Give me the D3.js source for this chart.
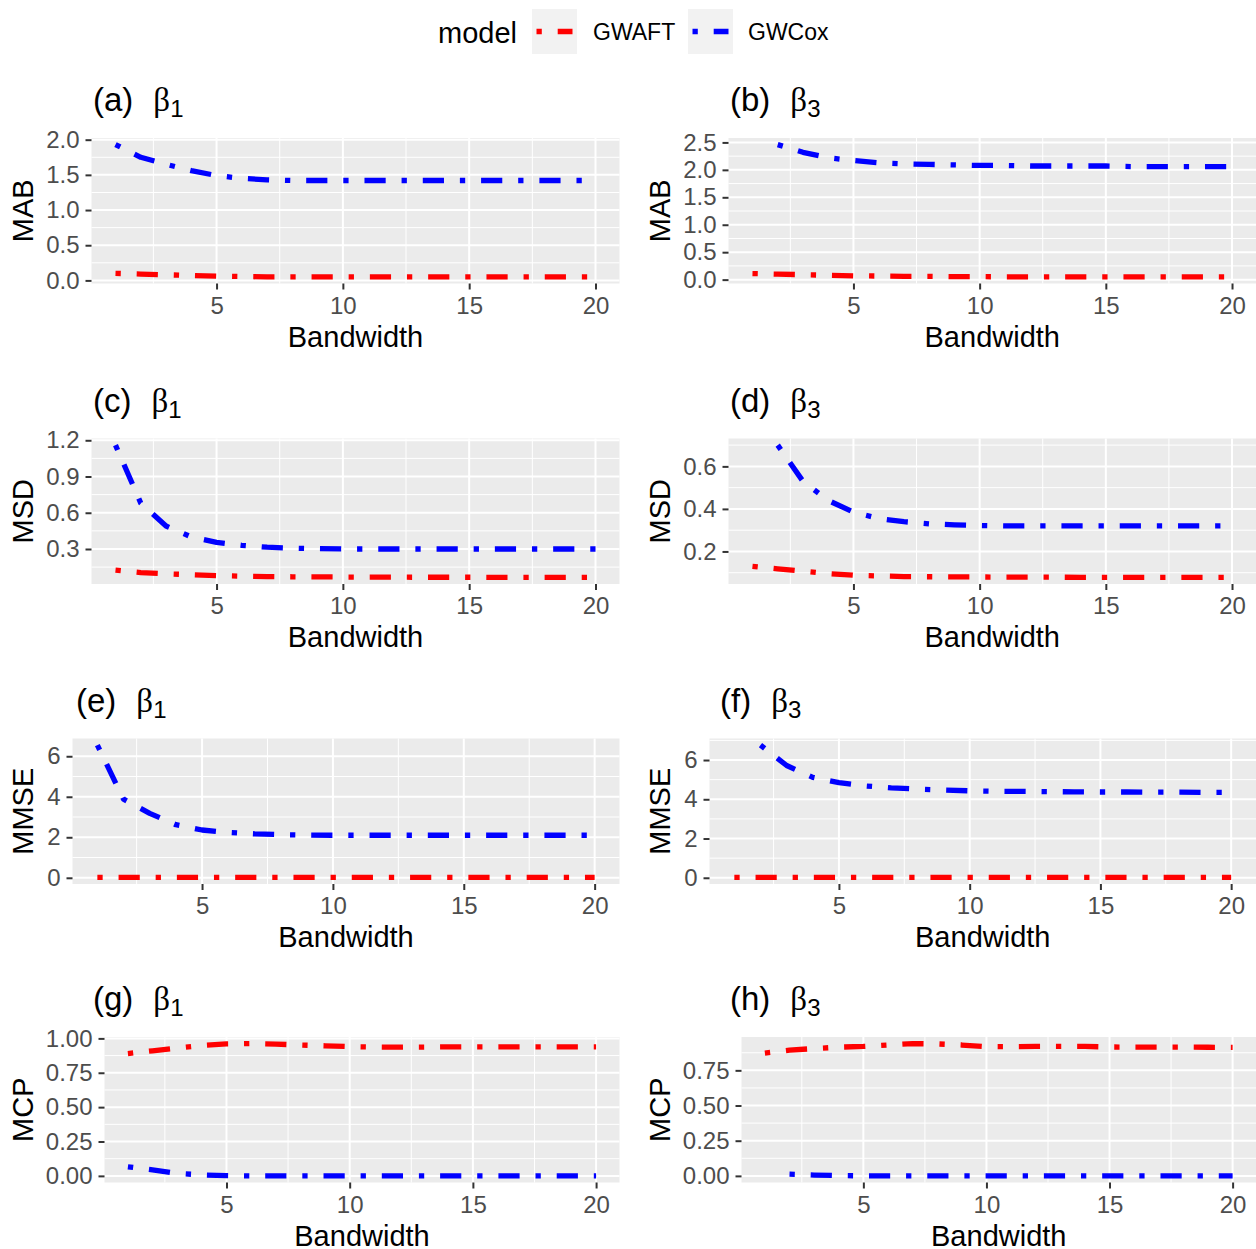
<!DOCTYPE html>
<html>
<head>
<meta charset="utf-8">
<script src="https://cdn.jsdelivr.net/npm/d3@7"></script>
<style>
  body { margin: 0; background: #fff; }
  text { font-family: "Liberation Sans", Arial, sans-serif; }
</style>
</head>
<body>
<div class="chart"></div>
<script>
// bandwidth values on the x axis
const bandwidth = [1, 2, 3, 4, 5, 6, 7, 8, 9, 10, 11, 12, 13, 14, 15, 16, 17, 18, 19, 20];
const bandwidthTicks = [5, 10, 15, 20];

const models = ["GWAFT", "GWCox"];
const modelColors = ["#ff0000", "#0000ff"];

// MAB
const mabB1Aft = [0.10, 0.09, 0.08, 0.07, 0.06, 0.055, 0.05, 0.05, 0.05, 0.05, 0.05, 0.05, 0.05, 0.05, 0.05, 0.05, 0.05, 0.05, 0.05, 0.05];
const mabB1Cox = [1.93, 1.75, 1.65, 1.56, 1.49, 1.45, 1.43, 1.42, 1.42, 1.42, 1.42, 1.42, 1.42, 1.42, 1.42, 1.42, 1.42, 1.42, 1.42, 1.42];
const mabB3Aft = [0.11, 0.10, 0.09, 0.08, 0.07, 0.065, 0.06, 0.06, 0.055, 0.055, 0.05, 0.05, 0.05, 0.05, 0.05, 0.05, 0.05, 0.05, 0.05, 0.05];
const mabB3Cox = [null, 2.46, 2.32, 2.22, 2.17, 2.13, 2.11, 2.10, 2.09, 2.08, 2.08, 2.07, 2.07, 2.07, 2.07, 2.06, 2.06, 2.06, 2.06, 2.06];
const mabB1Ticks = [0, 0.5, 1, 1.5, 2];
const mabB3Ticks = [0, 0.5, 1, 1.5, 2, 2.5];

// MSD
const msdB1Aft = [0.125, 0.105, 0.095, 0.087, 0.08, 0.075, 0.072, 0.07, 0.069, 0.068, 0.067, 0.067, 0.066, 0.066, 0.066, 0.065, 0.065, 0.065, 0.065, 0.065];
const msdB1Cox = [1.16, 0.68, 0.49, 0.40, 0.355, 0.33, 0.315, 0.307, 0.303, 0.30, 0.30, 0.30, 0.30, 0.30, 0.30, 0.30, 0.30, 0.30, 0.30, 0.30];
const msdB3Aft = [0.13, 0.118, 0.107, 0.096, 0.088, 0.085, 0.082, 0.081, 0.08, 0.08, 0.079, 0.079, 0.079, 0.078, 0.078, 0.078, 0.078, 0.078, 0.078, 0.078];
const msdB3Cox = [null, 0.70, 0.53, 0.44, 0.385, 0.355, 0.34, 0.33, 0.325, 0.322, 0.32, 0.32, 0.32, 0.32, 0.32, 0.32, 0.32, 0.32, 0.32, 0.32];
const msdB1Ticks = [0.3, 0.6, 0.9, 1.2];
const msdB3Ticks = [0.2, 0.4, 0.6];

// MMSE
const mmseB1Aft = [0.02, 0.02, 0.02, 0.02, 0.02, 0.02, 0.02, 0.02, 0.02, 0.02, 0.02, 0.02, 0.02, 0.02, 0.02, 0.02, 0.02, 0.02, 0.02, 0.02];
const mmseB1Cox = [6.55, 3.88, 3.18, 2.62, 2.36, 2.24, 2.17, 2.13, 2.11, 2.10, 2.10, 2.10, 2.10, 2.10, 2.10, 2.10, 2.10, 2.10, 2.10, 2.10];
const mmseB3Aft = [0.02, 0.02, 0.02, 0.02, 0.02, 0.02, 0.02, 0.02, 0.02, 0.02, 0.02, 0.02, 0.02, 0.02, 0.02, 0.02, 0.02, 0.02, 0.02, 0.02];
const mmseB3Cox = [null, 6.76, 5.72, 5.12, 4.85, 4.68, 4.58, 4.52, 4.47, 4.43, 4.41, 4.40, 4.39, 4.38, 4.37, 4.37, 4.36, 4.36, 4.35, 4.35];
const mmseTicks = [0, 2, 4, 6];

// MCP
const mcpB1Aft = [0.89, 0.91, 0.93, 0.948, 0.96, 0.962, 0.958, 0.952, 0.946, 0.94, 0.937, 0.936, 0.937, 0.938, 0.938, 0.938, 0.938, 0.938, 0.938, 0.938];
const mcpB1Cox = [0.066, 0.044, 0.018, 0.007, 0.002, 0, 0, 0, 0, 0, 0, 0, 0, 0, 0, 0, 0, 0, 0, 0];
const mcpB3Aft = [0.873, 0.894, 0.905, 0.915, 0.92, 0.93, 0.94, 0.938, 0.93, 0.918, 0.918, 0.92, 0.92, 0.92, 0.916, 0.915, 0.915, 0.915, 0.914, 0.913];
const mcpB3Cox = [null, 0.012, 0.006, 0.002, 0, 0, 0, 0, 0, 0, 0, 0, 0, 0, 0, 0, 0, 0, 0, 0];
const mcpB1Ticks = [0, 0.25, 0.5, 0.75, 1];
const mcpB3Ticks = [0, 0.25, 0.5, 0.75];

const panels = [
  { tag: "(a)", sub: "1", metric: "MAB", series: [mabB1Aft, mabB1Cox], ticks: mabB1Ticks, fmt: ".1f" },
  { tag: "(b)", sub: "3", metric: "MAB", series: [mabB3Aft, mabB3Cox], ticks: mabB3Ticks, fmt: ".1f" },
  { tag: "(c)", sub: "1", metric: "MSD", series: [msdB1Aft, msdB1Cox], ticks: msdB1Ticks, fmt: ".1f" },
  { tag: "(d)", sub: "3", metric: "MSD", series: [msdB3Aft, msdB3Cox], ticks: msdB3Ticks, fmt: ".1f" },
  { tag: "(e)", sub: "1", metric: "MMSE", series: [mmseB1Aft, mmseB1Cox], ticks: mmseTicks, fmt: "d" },
  { tag: "(f)", sub: "3", metric: "MMSE", series: [mmseB3Aft, mmseB3Cox], ticks: mmseTicks, fmt: "d" },
  { tag: "(g)", sub: "1", metric: "MCP", series: [mcpB1Aft, mcpB1Cox], ticks: mcpB1Ticks, fmt: ".2f" },
  { tag: "(h)", sub: "3", metric: "MCP", series: [mcpB3Aft, mcpB3Cox], ticks: mcpB3Ticks, fmt: ".2f" },
];

// page geometry
const layout = {
  width: 1256,
  height: 1249,
  rowTop: [138, 438.5, 738.5, 1037],
  panelHeight: 145.5,
  colRight: [619.5, 1256],
  panelLeft: [91.5, 728.5, 91.5, 728.5, 72.5, 709.5, 104.5, 741.5],
  titleX: [93, 730, 93, 730, 76, 720, 93, 730],
  yTitleX: [33, 670],
};

const lineWidth = 5.3;
const dash = [1, 3, 4, 3].map((d) => d * lineWidth).join(" ");

function expand([a, b]) {
  const pad = (b - a) * 0.05;
  return [a - pad, b + pad];
}

function minorBreaks(ticks, domain) {
  const step = ticks[1] - ticks[0];
  const out = [];
  for (let v = ticks[0] - step / 2; v <= ticks[ticks.length - 1] + step; v += step) {
    if (v >= domain[0] && v <= domain[1]) out.push(v);
  }
  return out;
}

const svg = d3
  .select(".chart")
  .append("svg")
  .attr("width", layout.width)
  .attr("height", layout.height)
  .style("display", "block");

svg
  .append("rect")
  .attr("width", layout.width)
  .attr("height", layout.height)
  .attr("fill", "#fff");

function drawPanel(p, i) {
  const row = Math.floor(i / 2);
  const col = i % 2;
  const x0 = layout.panelLeft[i];
  const x1 = layout.colRight[col];
  const y0 = layout.rowTop[row];
  const y1 = y0 + layout.panelHeight;

  const xDomain = expand(d3.extent(bandwidth));
  const x = d3.scaleLinear().domain(xDomain).range([x0, x1]);
  const all = p.series.flat().filter((v) => v != null);
  const yDomain = expand(d3.extent(all));
  const y = d3.scaleLinear().domain(yDomain).range([y1, y0]);

  const g = svg.append("g").attr("class", "panel");

  g.append("rect")
    .attr("x", x0)
    .attr("y", y0)
    .attr("width", x1 - x0)
    .attr("height", y1 - y0)
    .attr("fill", "#ebebeb");

  // minor grid
  g.append("g")
    .selectAll("line")
    .data(minorBreaks(bandwidthTicks, xDomain))
    .join("line")
    .attr("x1", (d) => x(d))
    .attr("x2", (d) => x(d))
    .attr("y1", y0)
    .attr("y2", y1)
    .attr("stroke", "#fff")
    .attr("stroke-width", 1);
  g.append("g")
    .selectAll("line")
    .data(minorBreaks(p.ticks, yDomain))
    .join("line")
    .attr("x1", x0)
    .attr("x2", x1)
    .attr("y1", (d) => y(d))
    .attr("y2", (d) => y(d))
    .attr("stroke", "#fff")
    .attr("stroke-width", 1);

  // major grid
  g.append("g")
    .selectAll("line")
    .data(bandwidthTicks)
    .join("line")
    .attr("x1", (d) => x(d))
    .attr("x2", (d) => x(d))
    .attr("y1", y0)
    .attr("y2", y1)
    .attr("stroke", "#fff")
    .attr("stroke-width", 2);
  g.append("g")
    .selectAll("line")
    .data(p.ticks)
    .join("line")
    .attr("x1", x0)
    .attr("x2", x1)
    .attr("y1", (d) => y(d))
    .attr("y2", (d) => y(d))
    .attr("stroke", "#fff")
    .attr("stroke-width", 2);

  // lines
  const line = d3
    .line()
    .defined((d) => d[1] != null)
    .x((d) => x(d[0]))
    .y((d) => y(d[1]));

  p.series.forEach((values, k) => {
    const pts = bandwidth.map((b, j) => [b, values[j]]).filter((d) => d[1] != null);
    g.append("path")
      .attr("d", line(pts))
      .attr("fill", "none")
      .attr("stroke", modelColors[k])
      .attr("stroke-width", lineWidth)
      .attr("stroke-dasharray", dash)
      .attr("stroke-linecap", "butt")
      .attr("stroke-linejoin", "round");
  });

  // axes
  const xAxis = g
    .append("g")
    .attr("transform", `translate(0,${y1})`)
    .call(
      d3.axisBottom(x).tickValues(bandwidthTicks).tickSize(6).tickSizeOuter(0).tickPadding(7)
    );
  const yAxis = g
    .append("g")
    .attr("transform", `translate(${x0},0)`)
    .call(
      d3
        .axisLeft(y)
        .tickValues(p.ticks)
        .tickFormat(d3.format(p.fmt))
        .tickSize(6)
        .tickSizeOuter(0)
        .tickPadding(6)
    );
  [xAxis, yAxis].forEach((a) => {
    a.select(".domain").remove();
    a.selectAll(".tick line").attr("stroke", "#333").attr("stroke-width", 2);
    a.selectAll(".tick text")
      .attr("fill", "#4d4d4d")
      .style("font-size", "24px")
      .style("font-family", '"Liberation Sans", Arial, sans-serif');
  });

  // axis titles
  g.append("text")
    .attr("x", (x0 + x1) / 2)
    .attr("y", y1 + 63)
    .attr("text-anchor", "middle")
    .style("font-size", "29px")
    .text("Bandwidth");

  g.append("text")
    .attr(
      "transform",
      `translate(${layout.yTitleX[col]},${(y0 + y1) / 2}) rotate(-90)`
    )
    .attr("text-anchor", "middle")
    .style("font-size", "29px")
    .text(p.metric);

  // panel title
  const title = g
    .append("text")
    .attr("x", layout.titleX[i])
    .attr("y", y0 - 27)
    .style("font-size", "33px");
  title.append("tspan").text(p.tag);
  title
    .append("tspan")
    .attr("dx", 20)
    .style("font-family", '"Liberation Serif", serif')
    .text("β");
  title
    .append("tspan")
    .attr("dy", 6)
    .style("font-size", "24px")
    .text(p.sub);
}

panels.forEach(drawPanel);

// legend
const legend = svg.append("g").attr("class", "legend");
legend
  .append("text")
  .attr("x", 438)
  .attr("y", 43)
  .style("font-size", "29px")
  .text("model");

const keyX = [532, 688];
const labelX = [593, 748];
models.forEach((m, k) => {
  legend
    .append("rect")
    .attr("x", keyX[k])
    .attr("y", 9)
    .attr("width", 45)
    .attr("height", 45)
    .attr("fill", "#f2f2f2");
  legend
    .append("line")
    .attr("x1", keyX[k] + 4.5)
    .attr("x2", keyX[k] + 40.5)
    .attr("y1", 31.5)
    .attr("y2", 31.5)
    .attr("stroke", modelColors[k])
    .attr("stroke-width", lineWidth)
    .attr("stroke-dasharray", dash);
  legend
    .append("text")
    .attr("x", labelX[k])
    .attr("y", 40)
    .style("font-size", "23px")
    .text(m);
});
</script>
</body>
</html>
